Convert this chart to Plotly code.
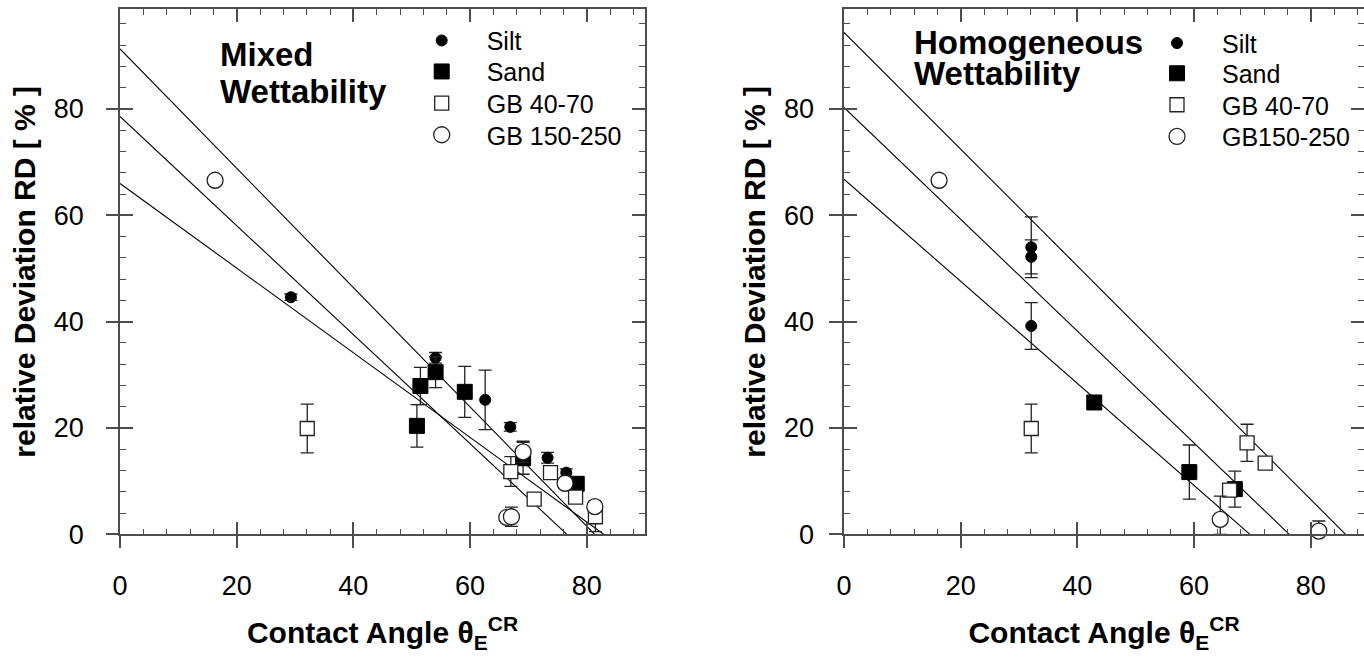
import plotly.graph_objects as go

W, H = 1364, 658
FONT = "Liberation Sans, Arial, sans-serif"
AX = "#4d4d4d"

# ---------------- Mixed wettability ----------------
silt_mix_x = [29.3, 54.1, 62.6, 66.9, 73.3, 76.5]
silt_mix_y = [44.6, 33.2, 25.3, 20.2, 14.4, 11.6]
silt_mix_err = [0.6, 1.0, 5.6, 0.8, 1.0, 0.7]

sand_mix_x = [50.9, 51.5, 54.1, 59.1, 69.1, 78.3]
sand_mix_y = [20.4, 27.9, 30.5, 26.8, 14.3, 9.5]
sand_mix_err = [4.0, 3.5, 2.9, 4.8, 3.0, 1.0]

gb40_mix_x = [32.1, 67.0, 71.0, 73.8, 78.1, 81.5]
gb40_mix_y = [19.9, 11.8, 6.6, 11.6, 7.0, 3.3]
gb40_mix_err = [4.6, 2.8, 0.5, 0.5, 0.5, 2.8]

gb150_mix_x = [16.3, 66.3, 67.1, 69.1, 76.3, 81.4]
gb150_mix_y = [66.6, 3.2, 3.3, 15.5, 9.6, 5.2]
gb150_mix_err = [0.0, 0.5, 1.8, 2.0, 1.0, 1.0]

fit_mix_intercept = [66.0, 78.6, 91.3]
fit_mix_slope = [-0.796, -1.026, -1.122]

# ---------------- Homogeneous wettability ----------------
silt_hom_x = [32.1, 32.1, 32.1]
silt_hom_y = [54.0, 52.2, 39.2]
silt_hom_err = [5.7, 3.2, 4.4]

sand_hom_x = [42.9, 59.2, 67.0]
sand_hom_y = [24.8, 11.7, 8.5]
sand_hom_err = [0.0, 5.1, 3.4]

gb40_hom_x = [32.1, 66.1, 69.1, 72.2]
gb40_hom_y = [19.9, 8.3, 17.2, 13.4]
gb40_hom_err = [4.6, 0.0, 3.5, 0.0]

gb150_hom_x = [16.3, 64.5, 81.4]
gb150_hom_y = [66.6, 2.8, 0.6]
gb150_hom_err = [0.0, 4.4, 1.9]
gb150_hom_err_minus = [0.0, 2.8, 0.6]

fit_hom_intercept = [66.8, 80.3, 94.4]
fit_hom_slope = [-0.960, -1.052, -1.098]

# ---------------- geometry (pixels) ----------------
PLOT_TOP, PLOT_BOTTOM = 9.3, 534.3
LEFT_X0, LEFT_X1 = 120, 645
RIGHT_X0 = 844
PX_PER_X = (LEFT_X1 - LEFT_X0) / 90.0
Y_MAX = 98.76


def fx(px):
    return px / W


def fy(py):
    return 1 - py / H


fig = go.Figure()

styles = {
    "Silt": dict(symbol="circle", size=11, color="black", line=dict(color="black", width=1)),
    "Sand": dict(symbol="square", size=15, color="black", line=dict(color="black", width=1)),
    "GB 40-70": dict(symbol="square", size=14, color="white", line=dict(color="#222", width=1.3)),
    "GB 150-250": dict(symbol="circle", size=16, color="white", line=dict(color="#222", width=1.3)),
}


def add_fits(intercepts, slopes, xa, ya):
    for a, b in zip(intercepts, slopes):
        xs = [0, -a / b]
        ys = [a + b * v for v in xs]
        fig.add_trace(go.Scatter(x=xs, y=ys, mode="lines", xaxis=xa, yaxis=ya,
                                 line=dict(color="black", width=1.1),
                                 showlegend=False, hoverinfo="skip", cliponaxis=False))


def add_series(name, label, xs, ys, errs, xa, ya, legend, errs_minus=None):
    err = dict(type="data", array=errs, visible=True, color="#222", thickness=1.3, width=6.5)
    if errs_minus is not None:
        err.update(symmetric=False, arrayminus=errs_minus)
    fig.add_trace(go.Scatter(
        x=xs, y=ys, mode="markers", name=label, xaxis=xa, yaxis=ya, legend=legend,
        marker=styles[name], cliponaxis=False, error_y=err,
    ))


add_fits(fit_mix_intercept, fit_mix_slope, "x", "y")
add_fits(fit_hom_intercept, fit_hom_slope, "x2", "y2")

add_series("Silt", "Silt", silt_mix_x, silt_mix_y, silt_mix_err, "x", "y", "legend")
add_series("Sand", "Sand", sand_mix_x, sand_mix_y, sand_mix_err, "x", "y", "legend2")
add_series("GB 40-70", "GB 40-70", gb40_mix_x, gb40_mix_y, gb40_mix_err, "x", "y", "legend3")
add_series("GB 150-250", "GB 150-250", gb150_mix_x, gb150_mix_y, gb150_mix_err, "x", "y", "legend4")

add_series("Silt", "Silt", silt_hom_x, silt_hom_y, silt_hom_err, "x2", "y2", "legend5")
add_series("Sand", "Sand", sand_hom_x, sand_hom_y, sand_hom_err, "x2", "y2", "legend6")
add_series("GB 40-70", "GB 40-70", gb40_hom_x, gb40_hom_y, gb40_hom_err, "x2", "y2", "legend7")
add_series("GB 150-250", "GB150-250", gb150_hom_x, gb150_hom_y, gb150_hom_err, "x2", "y2", "legend8",
           gb150_hom_err_minus)

# invisible carriers for the outer-tick overlay axes
for xa, ya in [("x3", "y"), ("x", "y3"), ("x4", "y2"), ("x2", "y4")]:
    fig.add_trace(go.Scatter(x=[1], y=[1], xaxis=xa, yaxis=ya, mode="markers",
                             marker=dict(opacity=0, size=1), showlegend=False,
                             hoverinfo="skip"))

tick_font = dict(family=FONT, size=27, color="black")
title_font = dict(family=FONT, size=30, color="black", weight="bold")
xtitle = "Contact Angle θ<sub>E</sub><sup>CR</sup>"
ytitle = "relative Deviation RD [ % ]"

MINOR = dict(ticks="inside", ticklen=6, tickwidth=1.3, tickcolor=AX, tick0=0, dtick=4)


def main_x(domain, rng, anchor):
    return dict(domain=domain, range=rng, anchor=anchor, tick0=0, dtick=20,
                ticks="inside", ticklen=13, tickwidth=1.5, tickcolor=AX,
                showline=True, linecolor=AX, linewidth=1.5, mirror="ticks",
                minor=MINOR, showgrid=False, zeroline=False, tickfont=tick_font,
                ticklabelstandoff=27, automargin=False,
                title=dict(text=xtitle, font=title_font, standoff=22))


def main_y(domain, rng, anchor, showline=True):
    return dict(domain=domain, range=rng, anchor=anchor, tick0=0, dtick=20,
                ticks="inside", ticklen=13, tickwidth=1.5, tickcolor=AX,
                showline=showline, linecolor=AX, linewidth=1.5, mirror="ticks",
                minor=MINOR, showgrid=False, zeroline=False, tickfont=tick_font,
                ticklabelstandoff=29, automargin=False,
                title=dict(text=ytitle, font=title_font, standoff=9))


def outer(over, anchor, rng, showline=False):
    return dict(overlaying=over, anchor=anchor, range=rng, tick0=0, dtick=20,
                ticks="outside", ticklen=13, tickwidth=1.5, tickcolor=AX,
                showline=showline, linecolor=AX, linewidth=1.5, mirror=False,
                showticklabels=False, visible=True,
                showgrid=False, zeroline=False, automargin=False)


ydom = [fy(PLOT_BOTTOM), fy(PLOT_TOP)]
x_dom_l = [fx(LEFT_X0), fx(LEFT_X1)]
x_dom_r = [fx(RIGHT_X0), 1.0]
x_rng_l = [0, 90]
x_rng_r = [0, (W - RIGHT_X0) / PX_PER_X]
y_rng = [0, Y_MAX]

layout = dict(
    width=W, height=H,
    margin=dict(l=0, r=0, t=0, b=0),
    paper_bgcolor="white", plot_bgcolor="white",
    font=dict(family=FONT, color="black"),
    xaxis=main_x(x_dom_l, x_rng_l, "y"),
    yaxis=main_y(ydom, y_rng, "x"),
    xaxis2=main_x(x_dom_r, x_rng_r, "y2"),
    # the right frame of this panel falls just past the page edge,
    # so its left spine comes from the overlay axis instead
    yaxis2=main_y(ydom, y_rng, "x2", showline=False),
    xaxis3=outer("x", "y", x_rng_l),
    yaxis3=outer("y", "x", y_rng),
    xaxis4=outer("x2", "y2", x_rng_r),
    yaxis4=outer("y2", "x2", y_rng, showline=True),
    showlegend=True,
)

# one legend per series so each row sits where it belongs
ITEM_W = 80
SYM_OFFSET = ITEM_W / 2 + 5
legend_rows = [
    ("legend", 441.7, 40.7), ("legend2", 441.7, 71.7),
    ("legend3", 441.7, 103.3), ("legend4", 441.7, 135.0),
    ("legend5", 1177.0, 43.3), ("legend6", 1177.0, 73.5),
    ("legend7", 1177.0, 105.0), ("legend8", 1177.0, 136.7),
]
for key, sx, sy in legend_rows:
    layout[key] = dict(x=fx(sx - SYM_OFFSET), y=fy(sy), xanchor="left", yanchor="middle",
                       font=dict(family=FONT, size=25, color="black"), itemwidth=ITEM_W,
                       bgcolor="rgba(0,0,0,0)", borderwidth=0)

fig.update_layout(**layout)

panel_titles = [
    ("Mixed", 218, 55), ("Wettability", 218, 92),
    ("Homogeneous", 912, 42.5), ("Wettability", 912, 74),
]
for text, px, py in panel_titles:
    fig.add_annotation(text=f"<b>{text}</b>", x=fx(px), y=fy(py), xref="paper", yref="paper",
                       xanchor="left", yanchor="middle", showarrow=False,
                       font=dict(family=FONT, size=33, color="black"))

fig.write_html("out.html")
